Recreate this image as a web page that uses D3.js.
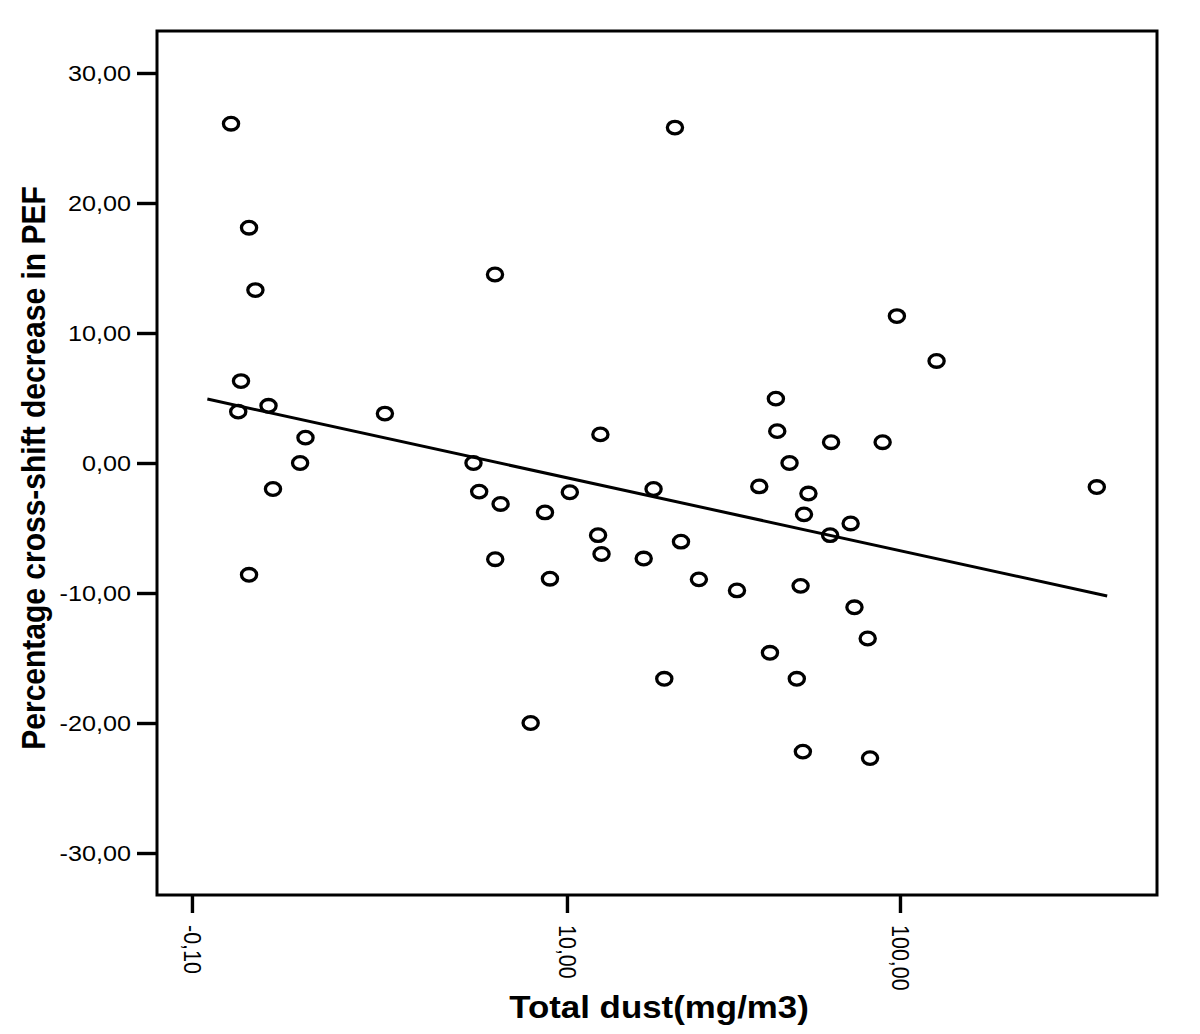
<!DOCTYPE html>
<html>
<head>
<meta charset="utf-8">
<script src="https://cdn.jsdelivr.net/npm/d3@7"></script>
<style>
  html, body { margin: 0; padding: 0; background: #fff; }
  svg { display: block; }
  text { font-family: "Liberation Sans", Arial, sans-serif; fill: #000; }
</style>
</head>
<body>
<svg id="chart" width="1200" height="1034"></svg>
<script>
// ---- data ----
const dust = [0.98, 1.11, 1.16, 6.08, 21.1, 1.05, 1.03, 1.27, 1.64, 1.58,
              1.31, 1.11, 2.84, 5.24, 5.45, 6.32, 6.09, 12.6, 8.59, 10.2,
              8.89, 7.78, 18.2, 12.4, 12.7, 17.0, 22.0, 24.9, 32.4, 19.6,
              42.4, 42.8, 46.6, 37.8, 53.1, 51.5, 50.3, 40.7, 49.0, 97.9,
              128.8, 62.1, 88.7, 71.1, 61.7, 73.0, 80.0, 51.1, 81.3, 390];
const pefDecrease = [26.1, 18.1, 13.3, 14.5, 25.8, 6.3, 3.95, 4.4, 1.95, 0.0,
              -2.0, -8.6, 3.8, 0.0, -2.2, -3.15, -7.4, 2.2, -3.8, -2.25,
              -8.9, -20.0, -2.0, -5.55, -7.0, -7.35, -6.05, -8.95, -9.8, -16.6,
              4.95, 2.45, 0.0, -1.8, -2.35, -3.95, -9.45, -14.6, -16.6, 11.3,
              7.85, 1.6, 1.6, -4.65, -5.55, -11.1, -13.5, -22.2, -22.7, -1.85];
const fitIntercept = 4.47;      // at log10(dust) = 0
const fitSlope = -5.605;        // per log10 unit
const fitRange = [0.832, 419];
const xTickValues = [0.748, 10, 100];
const xTickLabels = ["-0,10", "10,00", "100,00"];
const yTickValues = [-30, -20, -10, 0, 10, 20, 30];
const yTickLabels = ["-30,00", "-20,00", "-10,00", "0,00", "10,00", "20,00", "30,00"];
const xTitle = "Total dust(mg/m3)";
const yTitle = "Percentage cross-shift decrease in PEF";

// ---- layout ----
const L = 157, R = 1157, T = 31, B = 895;
const SX = 1.12; // horizontal glyph stretch of the reference

const svg = d3.select("#chart");
const x = d3.scaleLog().domain([0.5874, 591.3]).range([L, R]);
const y = d3.scaleLinear().domain([-33.23, 33.23]).range([B, T]);

// frame
svg.append("rect")
  .attr("x", L).attr("y", T).attr("width", R - L).attr("height", B - T)
  .attr("fill", "none").attr("stroke", "#000").attr("stroke-width", 3);

// y axis
const yAxis = d3.axisLeft(y).tickValues(yTickValues)
  .tickFormat((d, i) => yTickLabels[i]).tickSize(20).tickPadding(6);
const gy = svg.append("g").attr("transform", `translate(${L},0)`).call(yAxis);
gy.select(".domain").remove();
gy.selectAll(".tick line").attr("stroke", "#000").style("stroke-width", "3.4px");
gy.selectAll(".tick text")
  .attr("font-size", 22.5)
  .attr("font-family", "Liberation Sans, Arial, sans-serif")
  .attr("fill", "#000")
  .each(function () {
    const t = d3.select(this);
    const tx = +t.attr("x");
    t.attr("x", null).attr("transform", `translate(${tx},0) scale(${SX},1)`);
  });

// x axis
const xAxis = d3.axisBottom(x).tickValues(xTickValues)
  .tickFormat((d, i) => xTickLabels[i]).tickSize(18).tickPadding(0);
const gx = svg.append("g").attr("transform", `translate(0,${B})`).call(xAxis);
gx.select(".domain").remove();
gx.selectAll(".tick line").attr("stroke", "#000").style("stroke-width", "3.4px");
gx.selectAll(".tick text")
  .attr("font-size", 21.5)
  .attr("font-family", "Liberation Sans, Arial, sans-serif")
  .attr("fill", "#000")
  .attr("y", null).attr("dy", null)
  .attr("text-anchor", "start")
  .attr("dominant-baseline", "central")
  .attr("transform", `translate(0,30) scale(${SX},1) rotate(90)`);

// regression line
const fitFn = d => fitIntercept + fitSlope * Math.log10(d);
svg.append("line")
  .attr("x1", x(fitRange[0])).attr("y1", y(fitFn(fitRange[0])))
  .attr("x2", x(fitRange[1])).attr("y2", y(fitFn(fitRange[1])))
  .attr("stroke", "#000").attr("stroke-width", 3);

// points
const pts = dust.map((d, i) => ({ d, v: pefDecrease[i] }));
svg.append("g").selectAll("ellipse").data(pts).join("ellipse")
  .attr("cx", p => x(p.d)).attr("cy", p => y(p.v))
  .attr("rx", 7.6).attr("ry", 6.3)
  .attr("fill", "none").attr("stroke", "#000").attr("stroke-width", 3.3);

// titles
svg.append("text")
  .attr("transform", `translate(${(L + R) / 2 + 2},1018) scale(1.09,1)`)
  .attr("text-anchor", "middle")
  .attr("font-size", 32).attr("font-weight", "bold")
  .text(xTitle);

svg.append("text")
  .attr("transform", `translate(45,468) scale(${SX},1) rotate(-90)`)
  .attr("text-anchor", "middle")
  .attr("font-size", 30).attr("font-weight", "bold")
  .text(yTitle);
</script>
</body>
</html>
